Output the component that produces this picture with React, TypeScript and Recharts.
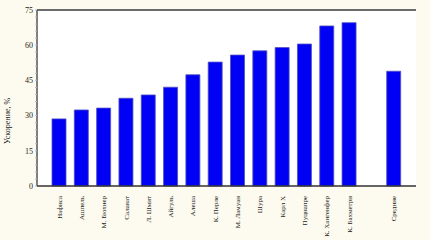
import React from "react";
import { ComposedChart, Bar, XAxis, YAxis, CartesianGrid } from "recharts";

const names = [
  "Нафиса", "Ашпель", "М. Бюхнер", "Салават", "Л. Шмит", "Айгуль", "Алеша",
  "К. Перле", "М. Ламуан", "Шура", "Карл Х", "Пуциапре", "К. Хангенфер",
  "К. Бахметри", "", "Средние",
];
const values = [
  28.6, 32.4, 33.2, 37.4, 38.8, 42.1, 47.4, 52.8, 55.8, 57.6, 59.0, 60.5,
  68.2, 69.6, null, 48.9,
];
const yTicks = [0, 3, 6, 9, 12, 15, 18, 21, 24, 27, 30, 33, 36, 39, 42, 45, 48, 51, 54, 57, 60, 63, 66, 69, 72, 75];
const yLabel = "Ускорение, %";

const data = names.map((n, i) => ({ name: n, v: values[i] }));

const FONT = "'Liberation Serif', serif";

const XTick = (props: any) => {
  const { x, y, payload } = props;
  return (
    <text
      x={x}
      y={y}
      transform={`rotate(-90, ${x}, ${y})`}
      textAnchor="end"
      dy="0.35em"
      fontSize={7}
      fontFamily={FONT}
      fill="#222"
    >
      {payload.value}
    </text>
  );
};

const YTick = (props: any) => {
  const { x, y, payload } = props;
  if (payload.value % 15 !== 0) return <g />;
  return (
    <text x={x} y={y} textAnchor="end" dy="0.35em" fontSize={8} fontFamily={FONT} fill="#222">
      {payload.value}
    </text>
  );
};

export default function App() {
  return (
    <div style={{ position: "absolute", left: 0, top: 0, width: 430, height: 240, background: "#fdfbef" }}>
      <ComposedChart
        width={430}
        height={240}
        data={data}
        margin={{ top: 0, right: 14, bottom: 0, left: 0 }}
      >
        <CartesianGrid fill="#ffffff" horizontal={false} vertical={false} />
        <XAxis
          dataKey="name"
          type="category"
          interval={0}
          padding={{ left: 11, right: 11 }}
          height={54}
          tick={<XTick />}
          tickLine={false}
          axisLine={{ stroke: "#333", strokeWidth: 1.5 }}
          tickMargin={4}
        />
        <XAxis
          xAxisId="top"
          orientation="top"
          dataKey="name"
          type="category"
          padding={{ left: 11, right: 11 }}
          height={10}
          tick={false}
          tickLine={false}
          axisLine={{ stroke: "#6b6b6b", strokeWidth: 2 }}
        />
        <YAxis
          domain={[0, 75]}
          ticks={yTicks}
          interval={0}
          width={37}
          tick={<YTick />}
          tickSize={2}
          tickLine={{ stroke: "#bbb" }}
          axisLine={{ stroke: "#555", strokeWidth: 1.5 }}
          label={{
            content: (p: any) => {
              const vb = p.viewBox;
              const cx = vb.x + 10;
              const cy = vb.y + vb.height * 0.63;
              return (
                <text
                  x={cx}
                  y={cy}
                  transform={`rotate(-90, ${cx}, ${cy})`}
                  textAnchor="middle"
                  fontSize={8}
                  fontFamily={FONT}
                  fill="#222"
                >
                  {yLabel}
                </text>
              );
            },
          }}
        />
        <YAxis
          yAxisId="r"
          orientation="right"
          domain={[0, 75]}
          ticks={yTicks}
          interval={0}
          width={0}
          mirror
          tick={false}
          tickSize={2}
          tickLine={{ stroke: "#bbb" }}
          axisLine={{ stroke: "#999", strokeWidth: 1 }}
        />
        <Bar
          dataKey="v"
          barSize={14}
          fill="#0000f5"
          stroke="#5050c0"
          strokeWidth={0.8}
          isAnimationActive={false}
        />
      </ComposedChart>
    </div>
  );
}
